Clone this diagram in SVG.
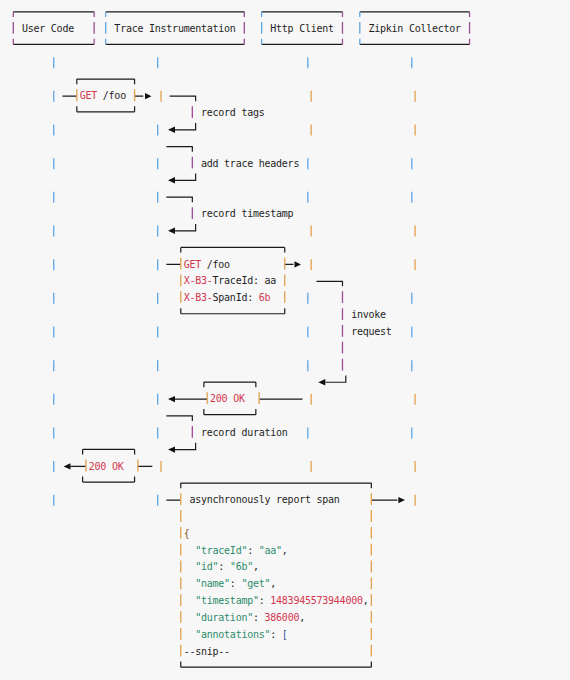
<svg xmlns="http://www.w3.org/2000/svg" width="570" height="680" viewBox="0 0 570 680">
<style>
.bg{fill:#f7f7f7}
.h{stroke:#1a1a1a;stroke-width:1.2;fill:none}
.k{stroke:#1a1a1a;stroke-width:1.2;fill:none}
.vo{stroke:#e3a04e;stroke-width:1.3;fill:none}
.vb{stroke:#5ea6e6;stroke-width:1.3;fill:none}
.vp{stroke:#a04a96;stroke-width:1.3;fill:none}
.vm{stroke:#9a4f8e;stroke-width:1.3;fill:none}
.tri{fill:#111}
text{font-family:"DejaVu Sans Mono","Liberation Mono",monospace;font-size:10px;letter-spacing:-0.245px;fill:#1e1e1e}
.r{fill:#d4364e}
.g{fill:#2c8c6c}
.o{fill:#8a5a2a}
.b{fill:#3a5a9a}
</style>
<rect class="bg" x="0" y="0" width="570" height="680"/>

<g id="node-user">
<path class="h" d="M13.3 11.8H94.15M13.3 44.46H94.15"/>
<path class="vm" d="M13.3 11.8V17M13.3 22.03V33.83M13.3 38.86V44.46M94.15 11.8V17M94.15 22.03V33.83M94.15 38.86V44.46"/>
<text x="21.96" y="31.93">User Code</text>
</g>
<g id="node-trace">
<path class="h" d="M105.7 11.8H244.3M105.7 44.46H244.3"/>
<path class="vb" d="M105.7 11.8V17M105.7 22.03V33.83M105.7 38.86V44.46"/>
<path class="vm" d="M244.3 11.8V17M244.3 22.03V33.83M244.3 38.86V44.46"/>
<text x="114.36" y="31.93">Trace Instrumentation</text>
</g>
<g id="node-http">
<path class="h" d="M261.63 11.8H342.48M261.63 44.46H342.48"/>
<path class="vb" d="M261.63 11.8V17M261.63 22.03V33.83M261.63 38.86V44.46"/>
<path class="vm" d="M342.48 11.8V17M342.48 22.03V33.83M342.48 38.86V44.46"/>
<text x="270.29" y="31.93">Http Client</text>
</g>
<g id="node-zipkin">
<path class="h" d="M359.8 11.8H469.53M359.8 44.46H469.53"/>
<path class="vb" d="M359.8 11.8V17M359.8 22.03V33.83M359.8 38.86V44.46"/>
<path class="vm" d="M469.53 11.8V17M469.53 22.03V33.83M469.53 38.86V44.46"/>
<text x="368.46" y="31.93">Zipkin Collector</text>
</g>

<g id="lifelines">
<path class="vb" d="M53.73 57.19V68.19M53.73 90.85V101.85M53.73 124.51V135.51M53.73 158.17V169.17M53.73 191.83V202.83M53.73 225.49V236.49M53.73 259.15V270.15M53.73 292.81V303.81M53.73 326.47V337.47M53.73 360.13V371.13M53.73 393.79V404.79M53.73 427.45V438.45M53.73 461.11V472.11M53.73 494.77V505.77"/>
<path class="vb" d="M157.68 57.19V68.19M157.68 124.51V135.51M157.68 158.17V169.17M157.68 191.83V202.83M157.68 225.49V236.49M157.68 259.15V270.15M157.68 292.81V303.81M157.68 326.47V337.47M157.68 360.13V371.13M157.68 393.79V404.79M157.68 427.45V438.45M157.68 494.77V505.77"/>
<path class="vo" d="M160.98 90.85V101.85M160.98 461.11V472.11"/>
<path class="vb" d="M307.83 57.19V68.19M307.83 158.17V169.17M307.83 191.83V202.83M307.83 292.81V303.81M307.83 326.47V337.47M307.83 360.13V371.13M307.83 427.45V438.45"/>
<path class="vo" d="M311.13 90.85V101.85M311.13 124.51V135.51M311.13 225.49V236.49M311.13 259.15V270.15M311.13 393.79V404.79M311.13 461.11V472.11"/>
<path class="vb" d="M411.78 57.19V68.19M411.78 158.17V169.17M411.78 191.83V202.83M411.78 292.81V303.81M411.78 326.47V337.47M411.78 360.13V371.13M411.78 427.45V438.45"/>
<path class="vo" d="M415.08 90.85V101.85M415.08 124.51V135.51M415.08 225.49V236.49M415.08 259.15V270.15M415.08 393.79V404.79M415.08 461.11V472.11M415.08 494.77V505.77"/>
</g>

<g id="connectors">
<g id="msg-get-foo">
<path class="h" d="M76.83 79.12H134.58M76.83 111.78H134.58M62.39 96.15H76.83M134.58 96.15H143.24"/>
<path class="k" d="M76.83 79.12V84.32M134.58 79.12V84.32M76.83 106.18V111.78M134.58 106.18V111.78"/>
<path class="vo" d="M76.83 89.35V101.15M134.58 89.35V101.15"/>
<polygon class="tri" points="145,93.05 145,99.25 151.5,96.15"/>
<text x="79.71" y="99.25"><tspan class="r">GET</tspan> /foo</text>
</g>
<g id="msg-record-tags">
<path class="h" d="M169.64 96.15H195.63V101.15M175 129.81H195.63V123.01"/>
<path class="vp" d="M192.33 106.18V117.98"/>
<polygon class="tri" points="168,129.81 175,126.61 175,133.01"/>
<text x="200.99" y="116.08">record tags</text>
</g>
<g id="msg-add-trace-headers">
<path class="h" d="M166.34 146.64H192.33V151.64M175 180.3H195.63V173.5"/>
<path class="vp" d="M192.33 156.67V168.47"/>
<polygon class="tri" points="168,180.3 175,177.1 175,183.5"/>
<text x="200.99" y="166.57">add trace headers</text>
</g>
<g id="msg-record-timestamp">
<path class="h" d="M166.34 197.13H192.33V202.13M175 230.79H195.63V223.99"/>
<path class="vp" d="M192.33 207.16V218.96"/>
<polygon class="tri" points="168,230.79 175,227.59 175,233.99"/>
<text x="200.99" y="217.06">record timestamp</text>
</g>
<g id="msg-get-headers">
<path class="h" d="M180.78 247.42H284.73M180.78 313.74H284.73M166.34 264.45H180.78M284.73 264.45H293.39"/>
<path class="k" d="M180.78 247.42V252.62M284.73 247.42V252.62M180.78 308.14V313.74M284.73 308.14V313.74"/>
<path class="vo" d="M180.78 257.65V269.45M284.73 257.65V269.45M180.78 274.48V286.28M284.73 274.48V286.28M180.78 291.31V303.11M284.73 291.31V303.11"/>
<polygon class="tri" points="294.5,261.35 294.5,267.55 301,264.45"/>
<text x="183.66" y="267.55"><tspan class="r">GET</tspan> /foo</text>
<text x="183.66" y="284.38"><tspan class="r">X-B3-</tspan>TraceId: aa</text>
<text x="183.66" y="301.21"><tspan class="r">X-B3-</tspan>SpanId: <tspan class="r">6b</tspan></text>
</g>
<g id="msg-invoke-request">
<path class="h" d="M316.49 281.28H342.48V286.28M325.3 382.26H345.78V375.46"/>
<path class="vp" d="M342.48 291.31V303.11M342.48 308.14V319.94M342.48 324.97V336.77M342.48 341.8V353.6M342.48 358.63V370.43"/>
<polygon class="tri" points="318.3,382.26 325.3,379.06 325.3,385.46"/>
<text x="351.14" y="318.04">invoke</text>
<text x="351.14" y="334.87">request</text>
</g>
<g id="msg-200-ok-http">
<path class="h" d="M203.88 382.06H255.85M203.88 414.72H255.85M175 399.09H207.18M259.15 399.09H302.47"/>
<path class="k" d="M203.88 382.06V387.26M255.85 382.06V387.26M203.88 409.12V414.72M255.85 409.12V414.72"/>
<path class="vo" d="M207.18 392.29V404.09M259.15 392.29V404.09"/>
<polygon class="tri" points="168,399.09 175,395.89 175,402.29"/>
<text x="210.06" y="402.19" class="r">200 OK</text>
</g>
<g id="msg-record-duration">
<path class="h" d="M166.34 415.92H192.33V420.92M175 449.58H195.63V442.78"/>
<path class="vp" d="M192.33 425.95V437.75"/>
<polygon class="tri" points="168,449.58 175,446.38 175,452.78"/>
<text x="200.99" y="435.85">record duration</text>
</g>
<g id="msg-200-ok-user">
<path class="h" d="M82.6 449.38H134.58M82.6 482.04H134.58M70.5 466.41H85.9M137.88 466.41H152.32"/>
<path class="k" d="M82.6 449.38V454.58M134.58 449.38V454.58M82.6 476.44V482.04M134.58 476.44V482.04"/>
<path class="vo" d="M85.9 459.61V471.41M137.88 459.61V471.41"/>
<polygon class="tri" points="63.5,466.41 70.5,463.21 70.5,469.61"/>
<text x="88.79" y="469.51" class="r">200 OK</text>
</g>
<g id="msg-report-span">
<path class="h" d="M180.78 483.04H371.35M180.78 667.17H371.35M166.34 500.07H180.78M371.35 500.07H397.34"/>
<path class="k" d="M180.78 483.04V488.24M371.35 483.04V488.24M180.78 661.57V667.17M371.35 661.57V667.17"/>
<path class="vo" d="M180.78 493.27V505.07M180.78 510.1V521.9M180.78 526.93V538.73M180.78 543.76V555.56M180.78 560.59V572.39M180.78 577.42V589.22M180.78 594.25V606.05M180.78 611.08V622.88M180.78 627.91V639.71M180.78 644.74V656.54"/>
<path class="vo" d="M371.35 493.27V505.07M371.35 510.1V521.9M371.35 526.93V538.73M371.35 543.76V555.56M371.35 560.59V572.39M371.35 577.42V589.22M371.35 594.25V606.05M371.35 611.08V622.88M371.35 627.91V639.71M371.35 644.74V656.54"/>
<polygon class="tri" points="398.3,496.97 398.3,503.17 405,500.07"/>
<text x="189.44" y="503.17">asynchronously report span</text>
<text x="183.66" y="536.83" class="o">{</text>
<text x="195.21" y="553.66"><tspan class="g">"traceId"</tspan>: <tspan class="g">"aa"</tspan>,</text>
<text x="195.21" y="570.49"><tspan class="g">"id"</tspan>: <tspan class="g">"6b"</tspan>,</text>
<text x="195.21" y="587.32"><tspan class="g">"name"</tspan>: <tspan class="g">"get"</tspan>,</text>
<text x="195.21" y="604.15"><tspan class="g">"timestamp"</tspan>: <tspan class="r">1483945573944000</tspan>,</text>
<text x="195.21" y="620.98"><tspan class="g">"duration"</tspan>: <tspan class="r">386000</tspan>,</text>
<text x="195.21" y="637.81"><tspan class="g">"annotations"</tspan>: <tspan class="b">[</tspan></text>
<text x="183.66" y="654.64">--snip--</text>
</g>
</g>
</svg>
